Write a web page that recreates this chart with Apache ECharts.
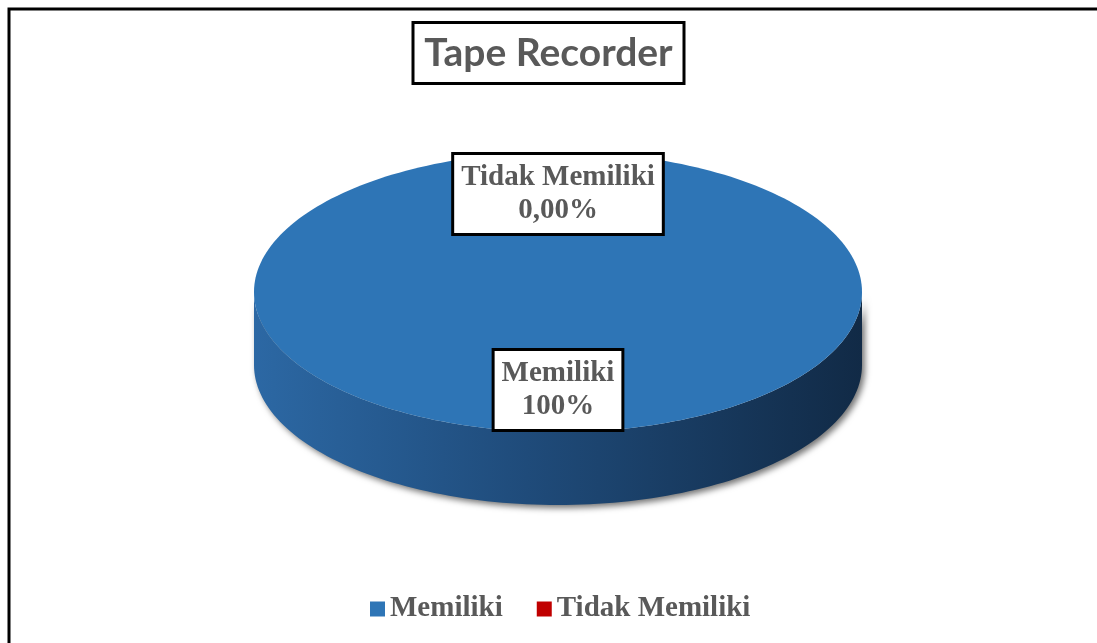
<!DOCTYPE html>
<html>
<head>
<meta charset="utf-8">
<title>Tape Recorder</title>
<script src="https://cdn.jsdelivr.net/npm/echarts@6/dist/echarts.min.js"></script>
<style>
  html, body { margin: 0; padding: 0; background: #fff; }
  #chart { width: 1097px; height: 643px; }
</style>
</head>
<body>
<div id="chart"></div>
<script>
// data
const categories = ['Memiliki', 'Tidak Memiliki'];
const values = [100, 0];
const percentLabels = ['100%', '0,00%'];
const colors = ['#2e75b6', '#c00000'];

// 3D pie geometry (layout only)
const pie = { cx: 558, cy: 292, rx: 304, ry: 140, depth: 73 };
const total = values.reduce((a, b) => a + b, 0);

// point on the ellipse, angle in degrees clockwise from 12 o'clock
const pt = (deg, dy = 0) => {
  const r = deg * Math.PI / 180;
  return [pie.cx + pie.rx * Math.sin(r), pie.cy - pie.ry * Math.cos(r) + dy];
};

const arc = (a, b, dy) => {
  const pts = [];
  const n = Math.max(2, Math.ceil(Math.abs(b - a) / 1.5));
  for (let i = 0; i <= n; i++) pts.push(pt(a + (b - a) * i / n, dy));
  return pts;
};

const renderSlice = (idx) => (params, api) => {
  const start = values.slice(0, idx).reduce((a, b) => a + b, 0) / total * 360;
  const end = start + values[idx] / total * 360;
  const children = [];
  const color = api.visual('color');

  if (end > start) {
    // side wall, only the front half (90..270 deg) is visible
    const a = Math.max(start, 90), b = Math.min(end, 270);
    if (b > a) {
      const top = arc(a, b, 0);
      const bottom = arc(b, a, pie.depth);
      children.push({
        type: 'polygon',
        shape: { points: top.concat(bottom) },
        style: {
          fill: {
            type: 'linear', x: 0, y: 0, x2: 1, y2: 0,
            colorStops: [
              { offset: 0, color: '#2c68a4' },
              { offset: 0.45, color: '#1f4b7a' },
              { offset: 1, color: '#112a46' }
            ]
          },
          shadowColor: 'rgba(0,0,0,0.55)',
          shadowBlur: 6,
          shadowOffsetX: 3,
          shadowOffsetY: 3
        }
      });
    }
    // top face
    let pts = arc(start, end, 0);
    if (end - start < 360) pts = [[pie.cx, pie.cy]].concat(pts);
    children.push({ type: 'polygon', shape: { points: pts }, style: { fill: color } });
  }

  // data label
  const mid = (start + end) / 2;
  const r = mid * Math.PI / 180;
  const f = 0.7;
  children.push({
    type: 'text',
    z2: 10,
    style: {
      text: categories[idx] + '\n' + percentLabels[idx],
      x: pie.cx + pie.rx * f * Math.sin(r),
      y: pie.cy - pie.ry * f * Math.cos(r),
      align: 'center',
      verticalAlign: 'middle',
      fontFamily: 'Liberation Serif',
      fontWeight: 'bold',
      fontSize: 29,
      lineHeight: 33,
      fill: '#595959',
      backgroundColor: '#fff',
      borderColor: '#000',
      borderWidth: 3,
      padding: [6, 7, 6, 7]
    }
  });
  return { type: 'group', children };
};

const chart = echarts.init(document.getElementById('chart'));
chart.setOption({
  animation: false,
  title: {
    text: 'Tape Recorder',
    left: 'center',
    top: 22,
    padding: [11, 12],
    borderColor: '#000',
    borderWidth: 3,
    backgroundColor: '#fff',
    textStyle: {
      fontFamily: 'Lato',
      fontWeight: 'bold',
      fontSize: 39,
      lineHeight: 40,
      color: '#595959'
    }
  },
  legend: {
    left: 370,
    top: 594,
    padding: 0,
    icon: 'rect',
    itemWidth: 15,
    itemHeight: 15,
    itemGap: 34,
    data: categories,
    textStyle: {
      fontFamily: 'Liberation Serif',
      fontWeight: 'bold',
      fontSize: 29,
      lineHeight: 30,
      color: '#595959'
    }
  },
  graphic: [{
    type: 'rect',
    shape: { x: 9, y: 9, width: 1400, height: 900 },
    style: { fill: 'none', stroke: '#000', lineWidth: 3 },
    silent: true
  }],
  series: categories.map((name, i) => ({
    type: 'custom',
    name,
    coordinateSystem: 'none',
    itemStyle: { color: colors[i] },
    data: [[values[i]]],
    renderItem: renderSlice(i)
  }))
});
</script>
</body>
</html>
